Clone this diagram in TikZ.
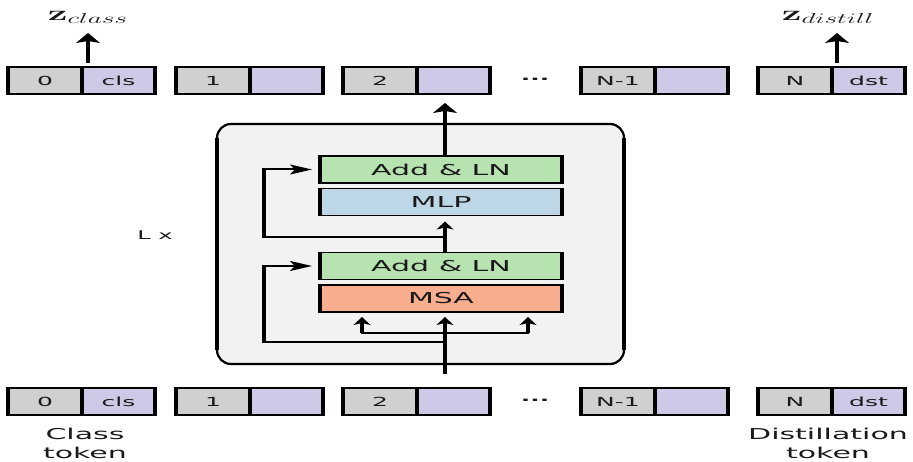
\documentclass[tikz,border=0pt]{standalone}
\usepackage[no-math]{fontspec}
\usepackage{graphicx}
\setmainfont{DejaVu Sans}[FakeStretch=2.0]
\usetikzlibrary{arrows.meta}
\definecolor{idx}{HTML}{D0D0D0}
\definecolor{tok}{HTML}{CDC9E6}
\definecolor{grn}{HTML}{B6E3B0}
\definecolor{blu}{HTML}{BDD7E7}
\definecolor{sal}{HTML}{F8AD8E}
\definecolor{blk}{HTML}{F2F2F2}
\definecolor{ink}{HTML}{1A1A1A}
\newcommand\tokpair[5]{%
  \node[idxcell] (#1a) at (#2,#3) {#4};
  \node[tokcell] (#1b) at (#1a.north east) {#5};
  \draw[vl,shorten <=-0.9pt,shorten >=-0.9pt] (#1a.north west) -- (#1a.south west);
  \draw[vl,shorten <=-0.9pt,shorten >=-0.9pt] (#1a.north east) -- (#1a.south east);
  \draw[vl,shorten <=-0.9pt,shorten >=-0.9pt] (#1b.north east) -- (#1b.south east);
}
\newcommand\layeredges[1]{%
  \draw[vl,shorten <=-0.9pt,shorten >=-0.9pt] (#1.north west) -- (#1.south west);
  \draw[vl,shorten <=-0.9pt,shorten >=-0.9pt] (#1.north east) -- (#1.south east);
}
\begin{document}
\begin{tikzpicture}[x=1pt,y=-1pt,
  every node/.style={inner sep=0pt, outer sep=0pt},
  cell/.style={draw=black, line width=1.8pt, minimum height=27pt, anchor=north west,
    font=\fontsize{12.5}{14}\selectfont, text=ink},
  idxcell/.style={cell, fill=idx, minimum width=74pt},
  tokcell/.style={cell, fill=tok, minimum width=73pt},
  layer/.style={draw=black, line width=1.8pt, minimum width=242pt, minimum height=27pt,
    font=\fontsize{15}{17}\selectfont, text=ink},
  vl/.style={line width=4pt},
  hl/.style={line width=2pt},
  varrow/.style={line width=4pt, -{Stealth[length=8pt,width=17pt,inset=2pt]}},
  bigvarrow/.style={line width=4.5pt, -{Stealth[length=10pt,width=24pt,inset=2pt]}},
  harrow/.style={line width=2pt, -{Stealth[length=22pt,width=10pt,inset=5pt]}},
  lbl/.style={font=\fontsize{15}{19}\selectfont, text=ink, align=center},
  zlbl/.style={text=ink, font=\fontsize{20}{22}\selectfont},
]
\useasboundingbox (0,0) rectangle (913,462);

% token rows
\tokpair{t0}{8}{67}{0}{cls}
\tokpair{t1}{176}{67}{1}{}
\tokpair{t2}{343}{67}{2}{}
\tokpair{tn1}{581}{67}{N-1}{}
\tokpair{tn}{758}{67}{N}{dst}
\node[font=\fontsize{12.5}{14}\selectfont\bfseries, text=ink] (tdots) at (535,79) {...};

\tokpair{b0}{8}{388}{0}{cls}
\tokpair{b1}{176}{388}{1}{}
\tokpair{b2}{343}{388}{2}{}
\tokpair{bn1}{581}{388}{N-1}{}
\tokpair{bn}{758}{388}{N}{dst}
\node[font=\fontsize{12.5}{14}\selectfont\bfseries, text=ink] (bdots) at (535,400) {...};

% block
\node[draw=black, line width=2.2pt, fill=blk, rounded corners=14pt,
  minimum width=407pt, minimum height=240pt] (block) at (420.5,244) {};
\draw[line width=4.5pt] ([yshift=-14pt]block.north west) -- ([yshift=14pt]block.south west);
\draw[line width=4.5pt] ([yshift=-14pt]block.north east) -- ([yshift=14pt]block.south east);

\node[layer, fill=grn] (add1) at (441,169.5) {Add \& LN};
\node[layer, fill=blu] (mlp) at (441,202) {MLP};
\node[layer, fill=grn] (add2) at (441,266) {Add \& LN};
\node[layer, fill=sal] (msa) at (441,298.5) {MSA};
\layeredges{add1}
\layeredges{mlp}
\layeredges{add2}
\layeredges{msa}

\node[font=\fontsize{12}{14}\selectfont, text=ink] (lx) at (155,235) {L x};

% main flow
\coordinate (mx) at (445,0);
\draw[bigvarrow, shorten >=9pt] (add1.north -| mx) -- (t2b.south -| mx);
\draw[varrow, shorten >=6pt] (add2.north -| mx) -- (mlp.south -| mx);
\draw[varrow, line width=4.5pt, shorten <=14pt, shorten >=5pt] (b2b.north -| mx) -- (msa.south -| mx);

% branches into MSA
\coordinate (brl) at (362,333);
\coordinate (brr) at (528,333);
\draw[hl] ([xshift=-1pt]brl) -- ([xshift=1pt]brr);
\draw[varrow, shorten >=5pt] (brl) -- (msa.south -| brl);
\draw[varrow, shorten >=5pt] (brr) -- (msa.south -| brr);

% residual connections
\coordinate (r1) at (264,342);
\draw[hl] (mx |- r1) -- ([xshift=-2pt]r1);
\draw[vl, shorten <=-1pt, shorten >=-1pt] (r1) -- (r1 |- add2.west);
\draw[harrow, shorten >=8pt] ([xshift=-2pt]r1 |- add2.west) -- (add2.west);

\coordinate (r2) at (264,237);
\draw[hl] (mx |- r2) -- ([xshift=-2pt]r2);
\draw[vl, shorten <=-1pt, shorten >=-1pt] (r2) -- (r2 |- add1.west);
\draw[harrow, shorten >=8pt] ([xshift=-2pt]r2 |- add1.west) -- (add1.west);

% outputs
\coordinate (zctip) at (88,33);
\coordinate (zdtip) at (837,33);
\draw[bigvarrow, shorten <=4pt] (t0b.north -| zctip) -- (zctip);
\draw[bigvarrow, shorten <=4pt] (tnb.north -| zdtip) -- (zdtip);
\node[zlbl] (zc) at (88,17) {\scalebox{1.9}[1]{$\mathbf{z}_{class}$}};
\node[zlbl] (zd) at (828,17) {\scalebox{1.9}[1]{$\mathbf{z}_{distill}$}};

% captions
\node[lbl] (ctok) at (85,443) {Class\\token};
\node[lbl] (dtok) at (828,443) {Distillation\\token};
\end{tikzpicture}
\end{document}
